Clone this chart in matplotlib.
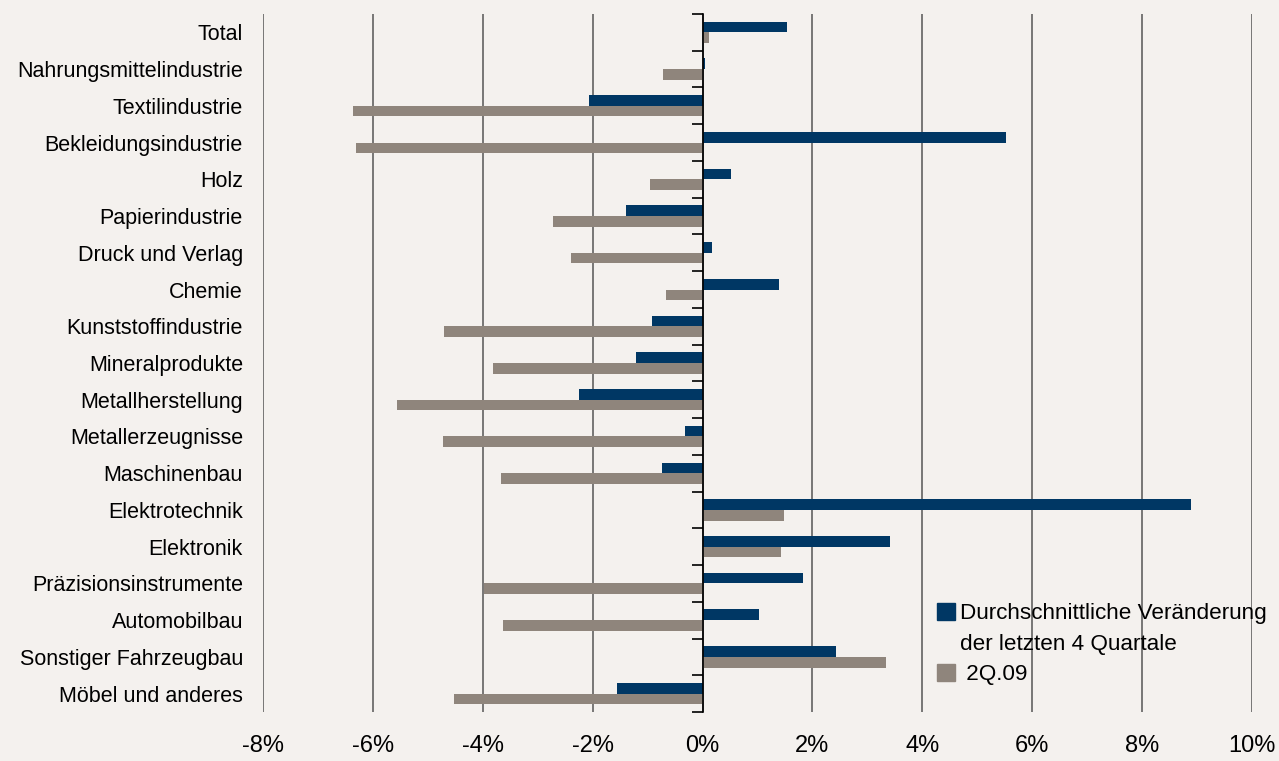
import matplotlib.pyplot as plt
import numpy as np
from matplotlib.ticker import FuncFormatter
from matplotlib.patches import Patch

# data (percent)
categories = ['Total', 'Nahrungsmittelindustrie', 'Textilindustrie', 'Bekleidungsindustrie',
              'Holz', 'Papierindustrie', 'Druck und Verlag', 'Chemie', 'Kunststoffindustrie',
              'Mineralprodukte', 'Metallherstellung', 'Metallerzeugnisse', 'Maschinenbau',
              'Elektrotechnik', 'Elektronik', 'Präzisionsinstrumente', 'Automobilbau',
              'Sonstiger Fahrzeugbau', 'Möbel und anderes']
avg_4q = [1.54, 0.05, -2.07, 5.52, 0.52, -1.39, 0.17, 1.39, -0.92, -1.21, -2.25,
          -0.32, -0.74, 8.89, 3.41, 1.82, 1.03, 2.42, -1.56]
q2_09 = [0.12, -0.72, -6.36, -6.31, -0.96, -2.72, -2.40, -0.67, -4.71, -3.82, -5.56,
         -4.73, -3.67, 1.48, 1.43, -3.98, -3.64, 3.34, -4.53]
xticks = [-8, -6, -4, -2, 0, 2, 4, 6, 8, 10]

bg = '#f4f1ee'
blue = '#003764'
gray = '#8f857c'

plt.rcParams['font.family'] = ['Liberation Sans', 'DejaVu Sans']

fig = plt.figure(figsize=(12.79, 7.61), dpi=100, facecolor=bg)
ax = fig.add_axes([0.2056, 0.0644, 0.7733, 0.9172], facecolor=bg)

y = np.arange(len(categories))
h = 0.29
ax.barh(y - h / 2, avg_4q, height=h, color=blue, zorder=3)
ax.barh(y + h / 2, q2_09, height=h, color=gray, zorder=3)

ax.set_xlim(-8, 10)
ax.set_ylim(len(categories) - 0.5, -0.5)
ax.set_xticks(xticks)
ax.xaxis.set_major_formatter(FuncFormatter(lambda v, p: '%d%%' % v))
ax.grid(axis='x', color='#555555', linewidth=1.1, zorder=1)
ax.set_axisbelow(True)

ax.set_yticks(y)
ax.set_yticklabels(categories)
ax.set_yticks(np.arange(len(categories) + 1) - 0.5, minor=True)
ax.tick_params(axis='y', which='major', length=0, pad=14.4, labelsize=15.5)
ax.tick_params(axis='y', which='minor', left=False, right=True, direction='in',
               length=8, width=1.2, color='black')
ax.tick_params(axis='x', length=0, pad=16.5, labelsize=17)

for s in ['top', 'bottom', 'left']:
    ax.spines[s].set_visible(False)
ax.spines['right'].set_position(('data', 0))
ax.spines['right'].set_color('black')
ax.spines['right'].set_linewidth(1.2)
ax.spines['right'].set_zorder(4)

# legend: second line of the first label is its own entry without a marker
handles = [Patch(color=blue), Patch(color='none'), Patch(color=gray)]
labels = ['Durchschnittliche Veränderung', 'der letzten 4 Quartale', ' 2Q.09']
leg = ax.legend(handles, labels, loc='upper left', bbox_to_anchor=(0.672, 0.169),
                frameon=False, fontsize=16.2, handlelength=0.8, handleheight=0.8,
                handletextpad=0.25, labelspacing=0.4, borderaxespad=0)

fig.savefig('out.png', dpi=100, facecolor=bg)
